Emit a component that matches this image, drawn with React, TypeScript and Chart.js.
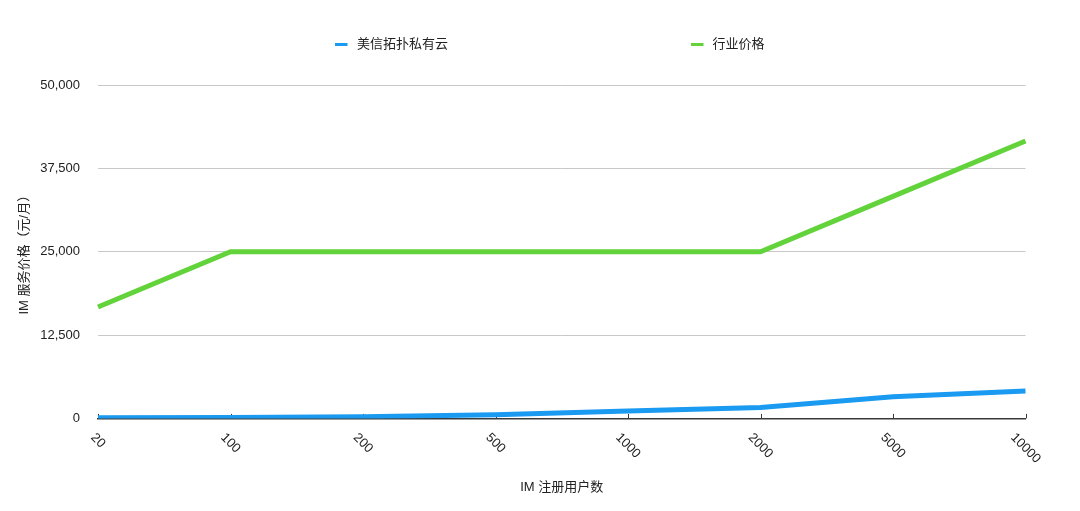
import React, { useEffect, useRef } from "react";
import { Chart, registerables } from "chart.js";

Chart.register(...registerables);

const categories = ["20", "100", "200", "500", "1000", "2000", "5000", "10000"];
const privateCloudPrices = [100, 150, 250, 550, 1100, 1650, 3250, 4100];
const industryPrices = [16700, 25000, 25000, 25000, 25000, 25000, 33300, 41600];
const seriesNames = ["美信拓扑私有云", "行业价格"];
const seriesColors = ["#1a9af0", "#63d33b"];
const yMin = 0;
const yMax = 50000;
const yStep = 12500;
const xTitle = "IM 注册用户数";
const yTitle = "IM 服务价格（元/月）";

const FONT_FAMILY = '"Liberation Sans", "Noto Sans CJK SC", sans-serif';
const TEXT_COLOR = "#222222";
const AXIS_COLOR = "#3a3a3a";

const customPlugin = {
  id: "customDecor",
  beforeDatasetsDraw(chart: any) {
    const ctx = chart.ctx;
    const xs = chart.scales.x;
    const bottom = chart.chartArea.bottom;
    ctx.save();
    ctx.strokeStyle = AXIS_COLOR;
    ctx.lineWidth = 1;
    for (let i = 0; i < categories.length; i++) {
      const x = Math.round(xs.getPixelForTick(i)) + 0.5;
      ctx.beginPath();
      ctx.moveTo(x, bottom);
      ctx.lineTo(x, bottom - 4.5);
      ctx.stroke();
    }
    ctx.restore();
  },
  afterDraw(chart: any) {
    const ctx = chart.ctx;
    const xs = chart.scales.x;
    const bottom = chart.chartArea.bottom;
    ctx.save();
    ctx.font = `13px ${FONT_FAMILY}`;
    ctx.fillStyle = TEXT_COLOR;
    ctx.textAlign = "center";
    ctx.textBaseline = "middle";
    const s = Math.SQRT1_2;
    for (let i = 0; i < categories.length; i++) {
      const label = categories[i];
      const x = xs.getPixelForTick(i);
      const w = ctx.measureText(label).width;
      const cy = bottom + 13.6 + ((w + 10) * s) / 2;
      ctx.save();
      ctx.translate(x, cy);
      ctx.rotate(Math.PI / 4);
      ctx.fillText(label, 0, 0);
      ctx.restore();
    }
    // legend
    const legendItems = [
      { markerX: 335, textX: 357 },
      { markerX: 691, textX: 712.5 },
    ];
    const ly = 44.5;
    ctx.textAlign = "left";
    for (let i = 0; i < seriesNames.length; i++) {
      const it = legendItems[i];
      ctx.fillStyle = seriesColors[i];
      ctx.fillRect(it.markerX, ly - 1.5, 12.5, 3);
      ctx.fillStyle = TEXT_COLOR;
      ctx.fillText(seriesNames[i], it.textX, ly);
    }
    ctx.restore();
  },
};

export default function App() {
  const canvasRef = useRef<HTMLCanvasElement | null>(null);

  useEffect(() => {
    if (!canvasRef.current) return;
    const chart = new Chart(canvasRef.current, {
      type: "line",
      data: {
        labels: categories,
        datasets: [
          {
            label: seriesNames[0],
            data: privateCloudPrices,
            borderColor: seriesColors[0],
            backgroundColor: seriesColors[0],
            borderWidth: 5,
            pointRadius: 0,
            pointHoverRadius: 0,
            tension: 0,
            fill: false,
          },
          {
            label: seriesNames[1],
            data: industryPrices,
            borderColor: seriesColors[1],
            backgroundColor: seriesColors[1],
            borderWidth: 5,
            pointRadius: 0,
            pointHoverRadius: 0,
            tension: 0,
            fill: false,
          },
        ],
      },
      options: {
        responsive: false,
        animation: false,
        devicePixelRatio: 1,
        layout: { padding: { top: 85, right: 54.5, left: 0, bottom: 0 } },
        font: { family: FONT_FAMILY, size: 13 },
        plugins: {
          legend: { display: false },
          tooltip: { enabled: false },
        },
        scales: {
          x: {
            type: "category",
            offset: false,
            grid: { display: false },
            border: { display: true, color: AXIS_COLOR, width: 1.5 },
            ticks: { display: false },
            title: {
              display: true,
              text: xTitle,
              color: TEXT_COLOR,
              font: { family: FONT_FAMILY, size: 13, lineHeight: 1.2 },
              padding: { top: 0, bottom: 16.2 },
            },
            afterFit: (scale: any) => {
              scale.height = 92.6;
            },
          },
          y: {
            min: yMin,
            max: yMax,
            border: { display: false },
            grid: {
              color: (c: any) => (c.tick && c.tick.value === 0 ? "rgba(0,0,0,0)" : "#c8c8c8"),
              lineWidth: 1,
              drawTicks: false,
            },
            ticks: {
              stepSize: yStep,
              padding: 18,
              color: TEXT_COLOR,
              font: { family: FONT_FAMILY, size: 13 },
              callback: (v: any) => Number(v).toLocaleString("en-US"),
            },
            title: {
              display: true,
              text: yTitle,
              color: TEXT_COLOR,
              font: { family: FONT_FAMILY, size: 13, lineHeight: 1.2 },
              padding: { top: 16.4, bottom: 0 },
            },
            afterFit: (scale: any) => {
              scale.width = 98;
            },
          },
        },
      },
      plugins: [customPlugin],
    });
    return () => chart.destroy();
  }, []);

  return (
    <div style={{ position: "fixed", left: 0, top: 0, width: 1080, height: 511, background: "#ffffff" }}>
      <canvas ref={canvasRef} width={1080} height={511} style={{ display: "block", width: 1080, height: 511 }} />
    </div>
  );
}
